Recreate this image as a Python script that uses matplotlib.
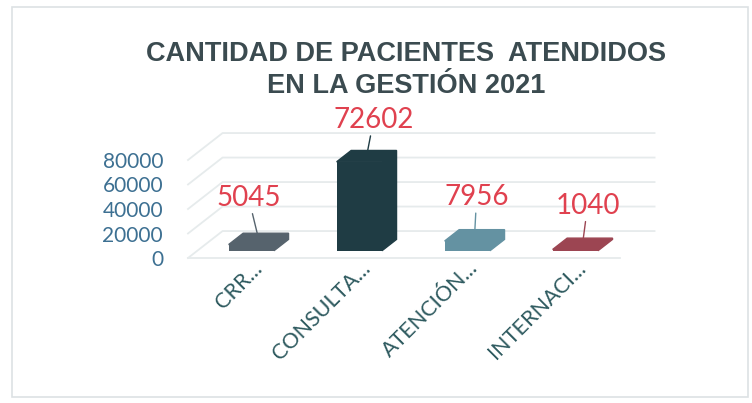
import matplotlib.pyplot as plt
import matplotlib.transforms as mtransforms
from matplotlib.patches import Polygon, Rectangle

# Data
categories = ['CRR...', 'CONSULTA...', 'ATENCIÓN...', 'INTERNACI...']
pacientes = [5045, 72602, 7956, 1040]
bar_colors = ['#56636d', '#1f3c44', '#6492a2', '#9c4552']
y_ticks = [0, 20000, 40000, 60000, 80000]
y_tick_labels = ['0', '20000', '40000', '60000', '80000']

fig = plt.figure(figsize=(7.52, 4.03), dpi=100)
fig.patch.set_facecolor('white')

# front plane of the chart
ax = fig.add_axes([188 / 752, 145 / 403, 432 / 752, 98 / 403])
ax.set_xlim(-0.5, 3.5)
ax.set_ylim(0, 80000)
for s in ax.spines.values():
    s.set_visible(False)

# pseudo 3d depth of the floor (data units)
depth_x = 0.32
depth_y = 22000
t_front, t_back = 0.27, 0.69
bar_w = 0.42

# gridlines: side wall diagonal + back wall
x_left, x_right = ax.get_xlim()
for v in y_ticks:
    ax.plot([x_left, x_left + depth_x, x_right + depth_x], [v, v + depth_y, v + depth_y],
            color='#e6ebec', lw=1.3, clip_on=False, zorder=0)
ax.plot([x_left, x_right], [0, 0], color='#e6ebec', lw=1.3, clip_on=False, zorder=0)

# bars: front face with ax.bar, top and side as polygon
xs = list(range(len(categories)))
ddx = (t_back - t_front) * depth_x
ddy = (t_back - t_front) * depth_y
for i, h in enumerate(pacientes):
    x0 = xs[i] - bar_w / 2 + t_front * depth_x
    y0 = t_front * depth_y
    ax.bar(x0 + bar_w / 2, h, width=bar_w, bottom=y0, color=bar_colors[i],
           clip_on=False, zorder=2)
    shape = [(x0, y0 + h), (x0 + bar_w, y0 + h), (x0 + bar_w, y0),
             (x0 + bar_w + ddx, y0 + ddy), (x0 + bar_w + ddx, y0 + h + ddy),
             (x0 + ddx, y0 + h + ddy)]
    ax.add_patch(Polygon(shape, closed=True, color=bar_colors[i], clip_on=False, zorder=2))

# data labels with leader lines (offsets in pixels)
text_offsets = [(-10, 41), (7, 36), (2, 38), (5, 38)]
for i, h in enumerate(pacientes):
    xm = xs[i] + (t_front + t_back) / 2 * depth_x
    ym = h + (t_front + t_back) / 2 * depth_y
    tx, ty = text_offsets[i]
    ax.annotate(str(h), xy=(xm, ym), xycoords='data',
                xytext=(tx, ty), textcoords='offset pixels',
                ha='center', va='center', fontsize=20, family='Lato', color='#e0414f',
                annotation_clip=False,
                arrowprops=dict(arrowstyle='-', color=bar_colors[i], lw=1,
                                shrinkA=0, shrinkB=0))

# axes ticks
ax.set_yticks(y_ticks)
ax.set_yticklabels(y_tick_labels, fontsize=15, family='Lato', color='#3d7092')
ax.tick_params(axis='y', length=0, pad=18)
ax.set_xticks(xs)
ax.set_xticklabels(categories, fontsize=15.5, family='Lato', color='#2e5a5f',
                   rotation=45, ha='right', rotation_mode='anchor', va='center')
ax.tick_params(axis='x', length=0, pad=5)
shift = mtransforms.ScaledTranslation(17 / 100, 0, fig.dpi_scale_trans)
for lab in ax.get_xticklabels():
    lab.set_transform(lab.get_transform() + shift)

# title
fig.text(406 / 752, 1 - 70 / 403, 'CANTIDAD DE PACIENTES  ATENDIDOS\nEN LA GESTIÓN 2021',
         ha='center', va='center', fontsize=19.5, fontweight='bold', family='Liberation Sans',
         color='#3b4b50', linespacing=1.32)

# light frame
fig.patches.append(Rectangle((12 / 752, 6 / 403), 736 / 752, 390 / 403, transform=fig.transFigure,
                             fill=False, ec='#dde2e4', lw=1.2))

fig.savefig('out.png', dpi=100)
